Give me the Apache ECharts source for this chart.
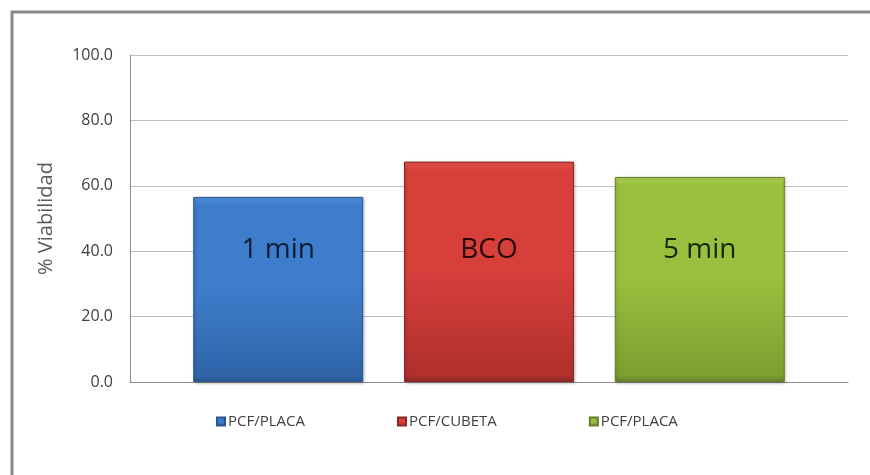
<!DOCTYPE html>
<html>
<head>
<meta charset="utf-8">
<script src="https://cdn.jsdelivr.net/npm/echarts@6/dist/echarts.min.js"></script>
<style>
  html, body { margin: 0; padding: 0; background: #ffffff; }
  #chart { width: 870px; height: 475px; }
</style>
</head>
<body>
<div id="chart"></div>
<script>
// Viability per treatment (one category, three bars)
const categories = [''];
const seriesNames = ['1 min', 'BCO', '5 min'];
const legendLabels = ['PCF/PLACA', 'PCF/CUBETA', 'PCF/PLACA'];
const viability = [56.6, 67.4, 62.7];
const yTicks = [0, 20, 40, 60, 80, 100];
const labelLevel = 36; // value at which the bar captions sit

const palette = [
  { top: '#5596e0', mid: '#3e7dcb', bottom: '#2f64a8', edge: '#2a5590' },
  { top: '#e8524e', mid: '#d73f3b', bottom: '#b0302e', edge: '#8a2826' },
  { top: '#b2d45a', mid: '#98bf3e', bottom: '#7c9e30', edge: '#657f28' }
];
const captionColors = ['#0e1c36', '#2a0808', '#1a2606'];

const gridTop = 55, gridBottom = 93, chartH = 475;
const plotH = chartH - gridTop - gridBottom;
const yMax = yTicks[yTicks.length - 1];

const chart = echarts.init(document.getElementById('chart'), null, { renderer: 'canvas' });

const series = seriesNames.map((name, i) => ({
  name: name,
  type: 'bar',
  data: [viability[i]],
  barWidth: 170,
  barGap: '24%',
  itemStyle: {
    color: {
      type: 'linear', x: 0, y: 0, x2: 0, y2: 1,
      colorStops: [
        { offset: 0, color: palette[i].top },
        { offset: 0.04, color: palette[i].mid },
        { offset: 0.5, color: palette[i].mid },
        { offset: 0.97, color: palette[i].bottom },
        { offset: 1, color: palette[i].edge }
      ]
    },
    borderColor: palette[i].edge,
    borderWidth: 1,
    shadowColor: 'rgba(0,0,0,0.25)',
    shadowBlur: 3,
    shadowOffsetX: 1,
    shadowOffsetY: 1
  },
  label: {
    show: true,
    position: 'insideBottom',
    distance: plotH * labelLevel / yMax,
    formatter: '{a}',
    fontFamily: '"Open Sans", Lato, sans-serif',
    fontSize: 28,
    color: captionColors[i]
  }
}));

chart.setOption({
  animation: false,
  backgroundColor: '#ffffff',
  graphic: [{
    type: 'rect',
    shape: { x: 12, y: 12, width: 900, height: 500 },
    style: { fill: 'none', stroke: '#8a8a8a', lineWidth: 3 },
    z: 100
  }],
  grid: { left: 130, right: 22, top: gridTop, bottom: gridBottom },
  legend: {
    bottom: 41,
    left: 211,
    itemWidth: 8,
    itemHeight: 8,
    itemGap: 92,
    icon: 'rect',
    formatter: function (name) { return legendLabels[seriesNames.indexOf(name)]; },
    textStyle: { fontFamily: '"Open Sans", Lato, sans-serif', fontSize: 15, color: '#404040', padding: [0, 0, 0, -2] },
    selectedMode: false
  },
  xAxis: {
    type: 'category',
    data: categories,
    axisLine: { lineStyle: { color: '#8c8c8c', width: 1 } },
    axisTick: { show: false },
    axisLabel: { show: false }
  },
  yAxis: {
    type: 'value',
    min: 0,
    max: yMax,
    interval: 20,
    name: '% Viabilidad',
    nameLocation: 'middle',
    nameGap: 74,
    nameTextStyle: { fontFamily: '"Open Sans", Lato, sans-serif', fontSize: 20, color: '#595959' },
    axisLine: { show: true, lineStyle: { color: '#8c8c8c', width: 1 } },
    axisTick: { show: false },
    axisLabel: {
      margin: 17,
      fontFamily: '"Open Sans", Lato, sans-serif',
      fontSize: 16,
      color: '#404040',
      formatter: v => v.toFixed(1)
    },
    splitLine: { lineStyle: { color: '#bfbfbf', width: 1 } }
  },
  series: series
});
</script>
</body>
</html>
